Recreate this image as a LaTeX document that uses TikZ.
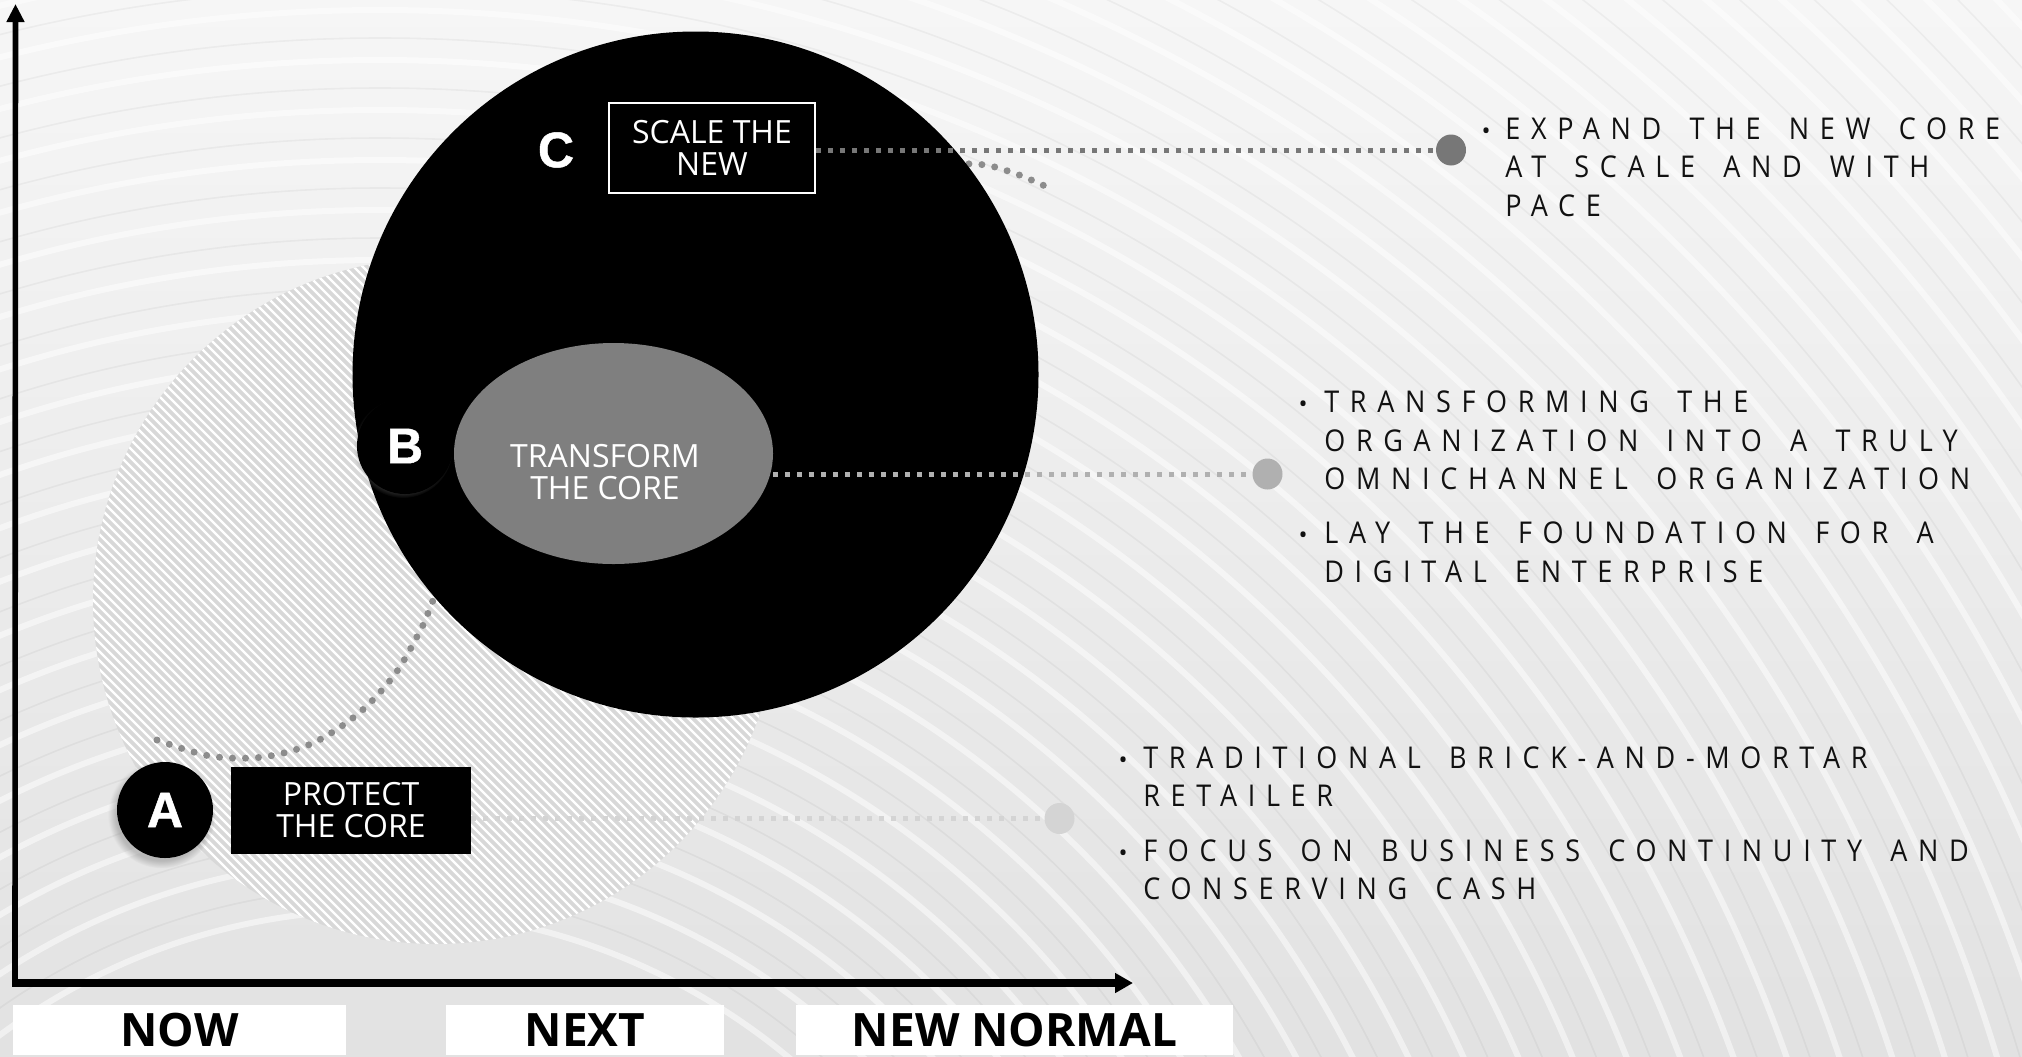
\documentclass[tikz,border=0pt]{standalone}
\usepackage{fontspec}
\usetikzlibrary{shapes.geometric,arrows.meta,shadows}
\setmainfont{Open Sans}
\newfontfamily\bodyfont[FakeStretch=0.9,LetterSpace=35.5,WordSpace=1.6]{Open Sans}
\newfontfamily\boxfont{Open Sans}
\newfontface\heavyfont[FakeBold=1]{Liberation Sans Bold}
\definecolor{bgtop}{HTML}{F6F6F6}
\definecolor{bgbot}{HTML}{E2E2E2}
\definecolor{hatchgray}{HTML}{D8D8D8}
\definecolor{coregray}{HTML}{7F7F7F}
\definecolor{cgray}{HTML}{777777}
\definecolor{bgray}{HTML}{B0B0B0}
\definecolor{agray}{HTML}{D4D4D4}
\definecolor{curvegray}{HTML}{8C8C8C}
\definecolor{textc}{HTML}{111111}
\tikzset{
  sqline/.style={line width=2.5pt, dash pattern=on 2.5pt off 3.5pt},
  roundline/.style={draw=curvegray, line width=3.5pt, line cap=round, dash pattern=on 0pt off 6.5pt},
  letterc/.style={circle, fill=black, minimum size=48pt, inner sep=0pt, text=white, font=\heavyfont\fontsize{25}{25}\selectfont},
  boxtext/.style={text=white, align=center, inner sep=0pt, font=\boxfont\fontsize{16}{16}\selectfont},
  enddot/.style={ellipse, minimum width=15pt, minimum height=15.5pt, inner sep=0pt},
  bodyline/.style={anchor=base west, inner sep=0pt, text=textc, font=\bodyfont\fontsize{15}{19}\selectfont},
  bul/.style={anchor=base, inner sep=0pt, text=textc, font=\boxfont\fontsize{12}{12}\selectfont},
  labbox/.style={fill=white, anchor=north, minimum height=25pt, inner sep=0pt, text=black, font=\boxfont\bfseries\fontsize{23}{23}\selectfont},
  shadowa/.style={circular drop shadow={shadow xshift=-1.5pt, shadow yshift=-2pt, shadow scale=1.12, opacity=0.45}},
  shadowb/.style={circular drop shadow={shadow xshift=-1pt, shadow yshift=-1pt, shadow scale=1.04, opacity=0.4}}
}
\begin{document}
\begin{tikzpicture}[x=0.5pt,y=-0.5pt]
\useasboundingbox (0,0) rectangle (2022,1056);
% background
\fill[top color=bgtop, bottom color=bgbot] (0,0) rectangle (2022,1056);
\begin{scope}
  \clip (0,0) rectangle (2022,1056);
  \foreach \r in {640,690,...,2440} {
    \draw[white, line width=3pt, opacity=0.5] (380,1550) circle[radius=\r];
    \draw[black, line width=0.8pt, opacity=0.04] (380,1550) circle[radius=\r+22];
  }
\end{scope}
% hatched circle (past)
\node[circle, fill=hatchgray, minimum size=343pt, inner sep=0pt,
  path picture={\foreach \c in {-720,-711,...,720} \draw[white, line width=1.1pt] (\c-400,-400) -- (\c+400,400);}] (past) at (436,601) {};
% dotted curve
\draw[roundline] plot[smooth, tension=0.55] coordinates {(157,740) (210,756) (263,757) (313,743) (359,713) (395,674) (421,629) (432,603) (480,480) (580,340) (740,220) (900,170) (973,164) (1011,172) (1047,187)};
% big black circle
\node[circle, fill=black, minimum size=343pt, inner sep=0pt] (newc) at (695.5,374.5) {};
% core ellipse
\node[enddot, fill=coregray, minimum width=159.5pt, minimum height=110.5pt] (coreshape) at (613.5,453.5) {};
\node[boxtext] (core) at (605,472.5) {TRANSFORM\\THE CORE};
% letters B and C
\node[letterc, shadowb] (bmark) at (405,446) {B};
\node[letterc] (cmark) at (556,150) {C};
% scale box
\node[boxtext, draw=white, line width=1pt, fill=black, minimum width=103pt, minimum height=45pt] (scale) at (712,148) {SCALE THE\\NEW};
% protect box and A
\node[boxtext, fill=black, minimum width=120pt, minimum height=43.5pt] (protect) at (351,810.5) {PROTECT\\THE CORE};
\node[letterc, shadowa] (amark) at (165,810) {A};
% end dots and connectors
\node[enddot, fill=cgray] (cdot) at (1451,150) {};
\node[enddot, fill=bgray] (bdot) at (1267.5,474) {};
\node[enddot, fill=agray] (adot) at (1059.5,818.5) {};
\draw[sqline, draw=cgray] (scale.east |- cdot.west) -- (cdot.west);
\draw[sqline, draw=bgray] (coreshape.east |- bdot.west) -- (bdot.west);
\draw[sqline, draw=agray] (protect.east |- adot.west) -- (adot.west);
% bullet text C
\node[bul] (bc1) at (1486,139) {•};
\node[bodyline] (tc1) at (1505,139) {EXPAND THE NEW CORE};
\node[bodyline] (tc2) at (1505,177) {AT SCALE AND WITH};
\node[bodyline] (tc3) at (1505,216) {PACE};
% bullet text B
\node[bul] (bb1) at (1303,412) {•};
\node[bodyline] (tb1) at (1324,412) {TRANSFORMING THE};
\node[bodyline] (tb2) at (1324,451) {ORGANIZATION INTO A TRULY};
\node[bodyline] (tb3) at (1324,489) {OMNICHANNEL ORGANIZATION};
\node[bul] (bb2) at (1303,543) {•};
\node[bodyline] (tb4) at (1324,543) {LAY THE FOUNDATION FOR A};
\node[bodyline] (tb5) at (1324,582) {DIGITAL ENTERPRISE};
% bullet text A
\node[bul] (ba1) at (1123,768) {•};
\node[bodyline] (ta1) at (1143,768) {TRADITIONAL BRICK-AND-MORTAR};
\node[bodyline] (ta2) at (1143,806) {RETAILER};
\node[bul] (ba2) at (1123,861) {•};
\node[bodyline] (ta3) at (1143,861) {FOCUS ON BUSINESS CONTINUITY AND};
\node[bodyline] (ta4) at (1143,899) {CONSERVING CASH};
% axes
\coordinate (orig) at (15,983);
\coordinate (ytip) at (15.5,4);
\coordinate (xstart) at (12,983);
\coordinate (xtip) at (1133,983);
\draw[line width=2.8pt, -{Triangle[length=9pt,width=8.5pt]}] (orig) -- (ytip);
\draw[line width=4pt, -{Triangle[length=9pt,width=9.5pt]}] (xstart) -- (xtip);
% bottom labels
\node[labbox, minimum width=166.5pt] (now) at (179.5,1005) {NOW};
\node[labbox, minimum width=139pt] (next) at (585,1005) {NEXT};
\node[labbox, minimum width=218.5pt] (newnormal) at (1014.5,1005) {NEW NORMAL};
\end{tikzpicture}
\end{document}
